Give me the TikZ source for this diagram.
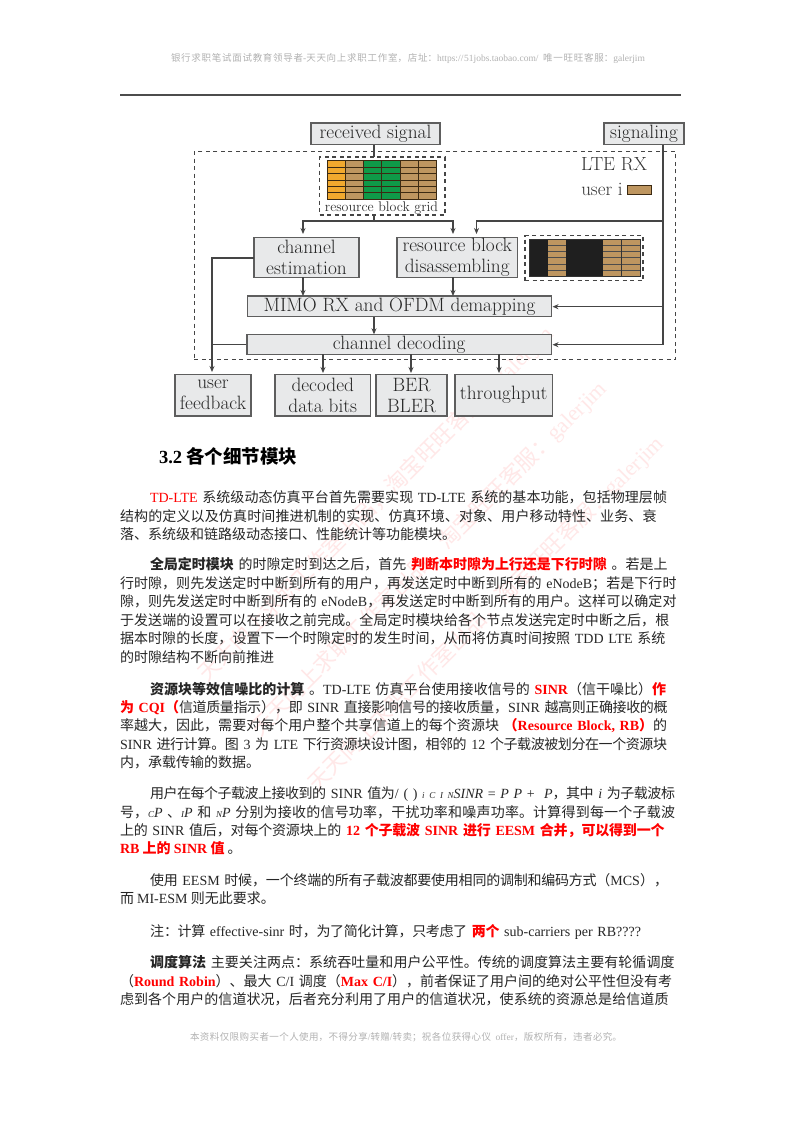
\documentclass[tikz,border=0pt]{standalone}
\usepackage{fontspec}
\usetikzlibrary{arrows.meta}
\newfontfamily\cjk{Noto Sans CJK SC}
\newfontfamily\ser{Liberation Serif}
\XeTeXlinebreaklocale "zh"
\XeTeXlinebreakskip=0pt plus 4pt minus 1.5pt
\definecolor{boxfill}{HTML}{E8E9EA}
\definecolor{boxline}{HTML}{5E5E5E}
\definecolor{linegray}{HTML}{454545}
\definecolor{tan}{HTML}{BE9660}
\definecolor{orng}{HTML}{F2A92E}
\definecolor{grn}{HTML}{0F9A48}
\definecolor{gridline}{HTML}{3C2A12}
\definecolor{txt}{HTML}{262626}
\newcommand\lat[1]{{\ser #1}}
\newcommand\lit[1]{{\ser\itshape #1}}
\newcommand\rd[1]{{\color{red}\bfseries #1}}
\newcommand\tline[5]{\node[textline,text width=\dimexpr #4pt-#2pt\relax] (#1) at (#2,#3+5) {\tolerance=10000\relax\parfillskip=0pt\relax\noindent #5\par};}
\newcommand\tshort[4]{\node[textline] (#1) at (#2,#3+5) {#4};}
\tikzset{
  box/.style={draw=boxline,line width=1.2pt,fill=boxfill,inner sep=0pt,align=center,text=black!85,font=\fontsize{19.3}{22}\selectfont},
  dbox/.style={draw=linegray,dashed,line width=1.1pt,dash pattern=on 4pt off 3.5pt,inner sep=0pt},
  wire/.style={draw=linegray,line width=1.2pt},
  arr/.style={wire,-{Stealth[length=6pt,width=5pt]}},
  lbl/.style={inner sep=0pt,text=black!80,font=\fontsize{19}{22}\selectfont},
  textline/.style={anchor=base west,inner sep=0pt,outer sep=0pt,text=txt,font=\cjk\fontsize{14}{16}\selectfont},
  wmark/.style={rotate=45,anchor=east,inner sep=0pt,text=red!9,font=\cjk\fontsize{22}{24}\selectfont},
}
\begin{document}
\begin{tikzpicture}[x=1pt,y=-1pt]
\useasboundingbox[fill=white] (0,0) rectangle (800,1132);
% watermark
\node[wmark] (wa) at (550,330) {天天向上求职工作室出品，淘宝旺旺客服：\lat{galerjim}};
\node[wmark] (wb) at (603,385) {天天向上求职工作室出品，淘宝旺旺客服：\lat{galerjim}};
\node[wmark] (wc) at (660,440) {天天向上求职工作室出品，淘宝旺旺客服：\lat{galerjim}};
% header
\tline{hd}{171}{57}{650}{\color{black!30}\fontsize{9.5}{11}\selectfont 银行求职笔试面试教育领导者\lat{-}天天向上求职工作室，店址：\lat{https://51jobs.taobao.com/} 唯一旺旺客服：\lat{galerjim}}
\coordinate (ruleL) at (120,95);
\coordinate (ruleR) at (681,95);
\draw[draw=black!70,line width=1.2pt] (ruleL) -- (ruleR);
% diagram
\node[dbox,minimum width=481.5pt,minimum height=207.6pt] (rx) at (435,255.5) {};
\node[box,minimum width=129pt,minimum height=21.5pt] (recv) at (375.5,133.75) {received signal};
\node[box,minimum width=80pt,minimum height=21.5pt] (sig) at (644,133.75) {signaling};
\node[lbl] (lte) at (614,164) {LTE RX};
\node[lbl] (useri) at (602,189) {user i};
\node[draw=gridline,line width=.8pt,fill=tan,minimum width=24pt,minimum height=9pt,inner sep=0pt] (swatch) at (639.5,189.5) {};
\node[dbox,minimum width=125.5pt,minimum height=58pt] (rbgbox) at (382.25,186) {};
\foreach \i/\c in {0/orng,1/tan,2/grn,3/grn,4/tan,5/tan}{
  \fill[\c] (327.4+\i*18.18,160.7) rectangle (327.4+\i*18.18+18.18,199.3);
}
\foreach \i in {0,...,6}{
  \draw[gridline,line width=.9pt] (327.4,160.7+\i*6.43) -- (436.5,160.7+\i*6.43);
  \draw[gridline,line width=.9pt] (327.4+\i*18.18,160.7) -- (327.4+\i*18.18,199.3);
}
\node[lbl,font=\fontsize{14}{16}\selectfont] (rbgl) at (381.5,208) {resource block grid};
\node[box,minimum width=105pt,minimum height=40pt] (ce) at (306.5,257.2) {channel\\[-1pt]estimation};
\node[box,minimum width=120.5pt,minimum height=40pt] (rbd) at (457.25,257.2) {resource block\\[-1pt]disassembling};
\node[dbox,minimum width=118pt,minimum height=45pt] (ubox) at (584,258.2) {};
\foreach \i/\c in {0/black!88,1/tan,2/black!88,3/black!88,4/tan,5/tan}{
  \fill[\c] (529.5+\i*18.42,239) rectangle (529.5+\i*18.42+18.42,276.7);
}
\foreach \i in {1,...,5}{
  \draw[black!70,line width=.7pt] (548,239+\i*6.28) -- (566.3,239+\i*6.28);
  \draw[black!70,line width=.7pt] (603,239+\i*6.28) -- (640,239+\i*6.28);
}
\draw[black!80,line width=.8pt] (529.5,239) rectangle (640,276.7);
\draw[black!80,line width=.7pt] (621.4,239) -- (621.4,276.7);
\node[box,minimum width=304pt,minimum height=20.7pt] (mimo) at (399.5,306.35) {MIMO RX and OFDM demapping};
\node[box,minimum width=304.5pt,minimum height=20pt] (dec) at (399.25,344.3) {channel decoding};
\node[box,minimum width=76pt,minimum height=41.7pt] (fb) at (213,395.15) {user\\[-1pt]feedback};
\node[box,minimum width=95.5pt,minimum height=41.7pt] (bits) at (322.75,395.15) {decoded\\[-1pt]data bits};
\node[box,minimum width=71pt,minimum height=41.7pt] (ber) at (411.5,395.15) {BER\\[-1pt]BLER};
\node[box,minimum width=97.5pt,minimum height=41.7pt] (thr) at (503.75,395.15) {throughput};
% connector points
\coordinate (j0) at (374,144.5);
\coordinate (j0b) at (374,157);
\coordinate (j1a) at (374,215);
\coordinate (j1) at (374,221);
\coordinate (ceT) at (303,234);
\coordinate (rbT) at (453,234);
\coordinate (sigT) at (476.5,234);
\coordinate (sA) at (663,144.5);
\coordinate (sB) at (663,221);
\coordinate (sC) at (663,306.7);
\coordinate (sD) at (663,344.7);
\coordinate (mimoR) at (552.5,306.7);
\coordinate (decR) at (552.5,344.7);
\coordinate (ceL) at (254,258);
\coordinate (fbX) at (212,258);
\coordinate (fbX2) at (212,344.3);
\coordinate (fbT) at (212,372);
\draw[wire] (j0) -- (j0b);
\draw[wire] (j1a) -- (j1);
\draw[arr] (j1) -| (ceT);
\draw[arr] (j1) -| (rbT);
\draw[wire] (sA) -- (sD);
\draw[arr] (sB) -| (sigT);
\draw[arr] (sC) -- (mimoR);
\draw[arr] (sD) -- (decR);
\draw[arr] (ceL) -- (fbX) -- (fbT);
\draw[wire] (dec.west) -- (fbX2);
\coordinate (ceB) at (303,277.3);
\coordinate (ceM) at (303,296);
\coordinate (rbB) at (453,277.3);
\coordinate (rbM) at (453,296);
\draw[arr] (ceB) -- (ceM);
\draw[arr] (rbB) -- (rbM);
\coordinate (mB) at (374,316.7);
\coordinate (mD) at (374,334.3);
\draw[arr] (mB) -- (mD);
\foreach \n/\xx in {a/323,b/411,c/499}{
  \coordinate (d\n) at (\xx,354.3);
  \coordinate (e\n) at (\xx,373);
  \draw[arr] (d\n) -- (e\n);
}
% body text
\node[textline,text=black,font=\cjk\bfseries\fontsize{18.5}{22}\selectfont] (h32) at (159,463) {{\ser 3.2} 各个细节模块};
\tline{p1a}{150}{497}{667.5}{{\color{red}\lat{TD-LTE}} 系统级动态仿真平台首先需要实现 \lat{TD-LTE} 系统的基本功能，包括物理层帧}
\tline{p1b}{120}{516}{657.5}{结构的定义以及仿真时间推进机制的实现、仿真环境、对象、用户移动特性、业务、衰}
\tshort{p1c}{120}{534}{落、系统级和链路级动态接口、性能统计等功能模块。}
\tline{p2a}{150}{564}{667.5}{{\bfseries 全局定时模块} 的时隙定时到达之后，首先 \rd{判断本时隙为上行还是下行时隙} 。若是上}
\tline{p2b}{120}{583}{677}{行时隙，则先发送定时中断到所有的用户，再发送定时中断到所有的 \lat{eNodeB}；若是下行时}
\tline{p2c}{120}{601}{677}{隙，则先发送定时中断到所有的 \lat{eNodeB}，再发送定时中断到所有的用户。这样可以确定对}
\tline{p2d}{120}{620}{670}{于发送端的设置可以在接收之前完成。全局定时模块给各个节点发送完定时中断之后，根}
\tline{p2e}{120}{638}{666}{据本时隙的长度，设置下一个时隙定时的发生时间，从而将仿真时间按照 \lat{TDD LTE} 系统}
\tshort{p2f}{120}{657}{的时隙结构不断向前推进}
\tline{p3a}{150}{689}{666.5}{{\bfseries 资源块等效信噪比的计算} 。\lat{TD-LTE} 仿真平台使用接收信号的 \rd{\lat{SINR}}（信干噪比）\rd{作}}
\tline{p3b}{120}{707}{667.5}{\rd{为 \lat{CQI}（}信道质量指示），即 \lat{SINR} 直接影响信号的接收质量，\lat{SINR} 越高则正确接收的概}
\tline{p3c}{120}{725}{667.5}{率越大，因此，需要对每个用户整个共享信道上的每个资源块 \rd{（\lat{Resource Block, RB}）}的}
\tline{p3d}{120}{744}{667}{\lat{SINR} 进行计算。图 \lat{3} 为 \lat{LTE} 下行资源块设计图，相邻的 \lat{12} 个子载波被划分在一个资源块}
\tshort{p3e}{120}{762}{内，承载传输的数据。}
\tline{p4a}{150}{793}{675}{用户在每个子载波上接收到的 \lat{SINR} 值为\lat{/ ( )} {\ser\itshape\fontsize{9}{10}\selectfont i C I N}\lit{SINR} \lat{=} \lit{P P} \lat{+} \ \lit{P}，其中 \lit{i} 为子载波标}
\tline{p4b}{120}{812}{676.5}{号，{\ser\itshape\fontsize{9}{10}\selectfont C}\lit{P} 、{\ser\itshape\fontsize{9}{10}\selectfont I}\lit{P} 和 {\ser\itshape\fontsize{9}{10}\selectfont N}\lit{P} 分别为接收的信号功率，干扰功率和噪声功率。计算得到每一个子载波}
\tline{p4c}{120}{830}{664.6}{上的 \lat{SINR} 值后，对每个资源块上的 \rd{\lat{12} 个子载波 \lat{SINR} 进行 \lat{EESM} 合并，可以得到一个}}
\tshort{p4d}{120}{848}{\rd{\lat{RB} 上的 \lat{SINR} 值} 。}
\tline{p5a}{150}{880}{668}{使用 \lat{EESM} 时候，一个终端的所有子载波都要使用相同的调制和编码方式（\lat{MCS}），}
\tshort{p5b}{120}{898}{而 \lat{MI-ESM} 则无此要求。}
\tline{p6}{150}{931}{641}{注：计算 \lat{effective-sinr} 时，为了简化计算，只考虑了 \rd{两个} \lat{sub-carriers per RB????}}
\tline{p7a}{150}{962}{675}{{\bfseries 调度算法} 主要关注两点：系统吞吐量和用户公平性。传统的调度算法主要有轮循调度}
\tline{p7b}{120}{981}{672}{（\rd{\lat{Round Robin}}）、最大 \lat{C/I} 调度（\rd{\lat{Max C/I}}），前者保证了用户间的绝对公平性但没有考}
\tline{p7c}{120}{999}{669}{虑到各个用户的信道状况，后者充分利用了用户的信道状况，使系统的资源总是给信道质}
\tline{ft}{190}{1035}{625}{\color{black!30}\fontsize{9.5}{11}\selectfont 本资料仅限购买者一个人使用，不得分享\lat{/}转赠\lat{/}转卖；祝各位获得心仪 \lat{offer}，版权所有，违者必究。}
\end{tikzpicture}
\end{document}
